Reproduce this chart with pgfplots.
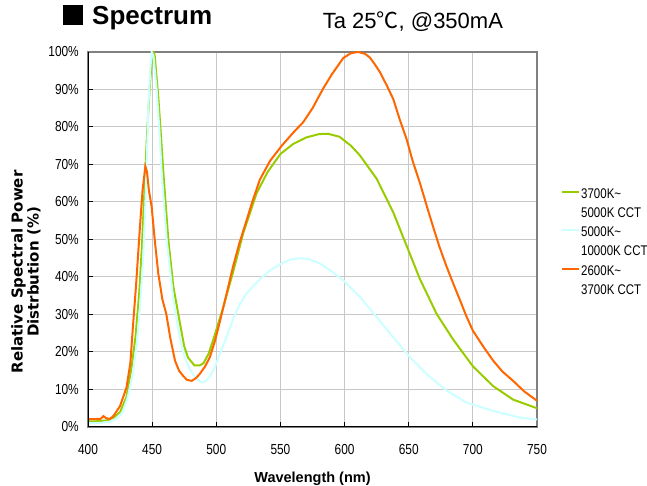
\documentclass[border=0pt]{standalone}
\usepackage{fontspec}
\setmainfont{Liberation Sans}
\newfontfamily\narrow[FakeStretch=0.82]{Liberation Sans}
\newfontfamily\cjk{Noto Sans CJK SC}
\newfontfamily\djb{DejaVu Sans}
\usepackage{pgfplots}
\usepackage{pgfplotstable}
\pgfplotsset{compat=1.18}
\definecolor{cgreen}{RGB}{153,204,0}
\definecolor{ccyan}{RGB}{204,255,255}
\definecolor{corange}{RGB}{255,102,0}
\definecolor{gridc}{RGB}{200,200,200}

\pgfplotstableread{
x y
400 1.5
405 1.5
410 1.6
415 1.8
420 2.5
425 4.0
430 8
434 16
437 24
440 36
442 48
444.4 66
446 78
448 90
450 99
451 100
452 99
454.8 88
457 77
458.7 68
462.6 50
466.5 37.5
471.7 27.6
475 21.5
478 18.5
483 16.4
487 16.4
490 17
494 19.5
497.7 23.3
505.5 32
513 41.2
521 51.7
531.5 62.4
540 68
550 72.8
560 75.5
570 77.2
580 78.1
587 78.2
596 77.4
605 75
612 72.4
625 66.2
638 57.2
648.4 48.3
658.8 39.4
671.7 30.2
684.7 23.3
700 16.2
715.8 10.9
731.4 7.3
750 5
}\green

\pgfplotstableread{
x y
400 1.0
410 1.1
417 1.4
422 2.2
427 4
431 8
435 14.3
438 22
440.5 32
443 45
445 62
447 85
448.5 95
449.6 100
451 99
453.5 90
455.5 80
457.4 68
461.3 50
466.5 34
471.7 23.3
475.5 18.5
479.5 15.3
484 13
488.6 11.9
492 12.3
495 13.5
499 16
503 19.7
508 24
513 28.7
518 32.5
523.7 35.7
534 39.4
542 41.8
551 43.6
558 44.7
565 45
572 44.8
580.8 43.6
590 41.5
599 39.1
612 34.7
625 29.3
638 23.9
651 18.6
664 14.1
679.6 9.7
695 6.5
715.8 4.3
736.7 2.5
750 2
}\cyan

\pgfplotstableread{
x y
400 2.1
405 2.1
410 2.2
412 2.9
414 2.4
417 2.1
420 3
425 5.6
430 10.5
433 17
435 26.6
437.5 38
440.5 53.4
442.5 63
444.7 69.5
446 68
447.5 63
449.6 58.8
452 50
454.8 40.9
458 34
461 30.2
464 24
467.8 17.7
471 15
474 13.7
477 12.6
480.8 12.3
484 13
487 14.1
491 16
495 18.6
499 23
503 28.4
508 35.5
513 42.7
518 49
523.7 55.2
528 60
534 66
542 71
551 75
560 78.5
567.8 81.3
575 85
583.4 90.3
590 94
599 98.4
605 99.7
610.7 100
616 99.5
619.8 98.5
624 96.5
627.6 94.6
633 91
638 87.4
643 82
648.4 76.7
653 71
658.8 65
664 59
669 53.4
674 48
679.6 42.7
685 38
690 33.8
695 29.5
700 25.7
708 21.5
715.8 17.7
723 14.8
731.4 12.3
740 9.5
750 7
}\orange

\begin{document}
\begin{tikzpicture}[x=1pt,y=1pt]
\path[use as bounding box] (0,0) rectangle (647,486);
\begin{axis}[
  at={(88pt,59pt)}, anchor=south west,
  scale only axis, width=449pt, height=375pt,
  xmin=400, xmax=750, ymin=0, ymax=100,
  xtick={400,450,...,750},
  xticklabels={400,450,500,550,600,650,700,750},
  ytick={0,10,...,100},
  yticklabels={0\%,10\%,20\%,30\%,40\%,50\%,60\%,70\%,80\%,90\%,100\%},
  tick pos=left,
  tick align=inside,
  major tick length=5pt,
  tick style={black, line width=1pt},
  xticklabel style={font=\narrow\fontsize{14.5}{14.5}\selectfont, anchor=north, inner sep=0pt, yshift=-17pt},
  yticklabel style={font=\narrow\fontsize{14.5}{14.5}\selectfont, anchor=east, inner sep=0pt, xshift=-9pt},
  grid=major,
  major grid style={gridc, line width=1pt},
  axis line style={gray, line width=1.2pt},
  legend image code/.code={\draw[#1] (0pt,12pt) -- (17pt,12pt);},
  legend style={draw=none, fill=none, inner sep=0pt,
    at={(1.0535,0.638)}, anchor=north west,
    font=\narrow\fontsize{14}{19}\selectfont,
    nodes={inner sep=1pt},
    cells={anchor=west, align=left},
    row sep=6pt},
  legend cell align=left,
]
\addplot[cgreen, line width=2pt] table[x=x,y=y]{\green};
\addlegendentry{3700K\textasciitilde\\5000K CCT}
\addplot[ccyan, line width=2pt] table[x=x,y=y]{\cyan};
\addlegendentry{5000K\textasciitilde\\10000K CCT}
\addplot[corange, line width=2pt] table[x=x,y=y]{\orange};
\addlegendentry{2600K\textasciitilde\\3700K CCT}
\draw[black, line width=1.4pt] (rel axis cs:0,1) -- (rel axis cs:0,0) -- (rel axis cs:1,0);
\end{axis}
\fill[black] (62.7,461) rectangle (83.3,481);
\node[anchor=base west, inner sep=0pt, font=\fontsize{26}{26}\bfseries\selectfont] at (92,461) {Spectrum};
\node[anchor=base west, inner sep=0pt, font=\fontsize{22}{22}\selectfont] at (322.7,457.7) {Ta 25{\cjk ℃}, @350mA};
\node[anchor=base, inner sep=0pt, font=\fontsize{14.5}{14.5}\bfseries\selectfont] at (312.5,3) {Wavelength (nm)};
\node[rotate=90, align=center, inner sep=0pt, font=\djb\bfseries\fontsize{15}{16}\selectfont] at (26,214) {Relative Spectral Power\\Distrbution (\%)};
\end{tikzpicture}
\end{document}
